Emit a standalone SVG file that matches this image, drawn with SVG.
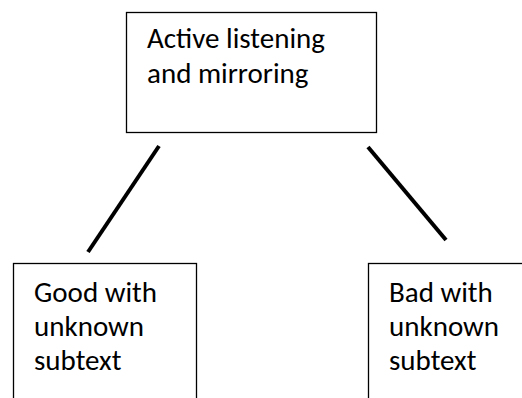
<svg xmlns="http://www.w3.org/2000/svg" width="522" height="398" viewBox="0 0 522 398">
<style>
.box{fill:#fff;stroke:#000;stroke-width:1.3}
.t{font-family:Carlito,Lato,"Liberation Sans",sans-serif;font-size:29px;fill:#000}
.c{stroke:#000;stroke-width:4;stroke-linecap:butt}
</style>
<rect width="522" height="398" fill="#fff"/>
<g id="connectors">
<line class="c" x1="159" y1="146" x2="88" y2="252"/>
<line class="c" x1="368" y1="147" x2="446" y2="240"/>
</g>
<g id="node-active">
<rect class="box" x="126.5" y="12.5" width="250" height="120"/>
<text class="t" x="147" y="48">Active listening</text>
<text class="t" x="147" y="83">and mirroring</text>
</g>
<g id="node-good">
<rect class="box" x="13.5" y="263.5" width="183" height="140"/>
<text class="t" x="34" y="302">Good with</text>
<text class="t" x="34" y="336">unknown</text>
<text class="t" x="34" y="370">subtext</text>
</g>
<g id="node-bad">
<rect class="box" x="368.5" y="263.5" width="160" height="140"/>
<text class="t" x="389" y="302">Bad with</text>
<text class="t" x="389" y="336">unknown</text>
<text class="t" x="389" y="370">subtext</text>
</g>
</svg>
